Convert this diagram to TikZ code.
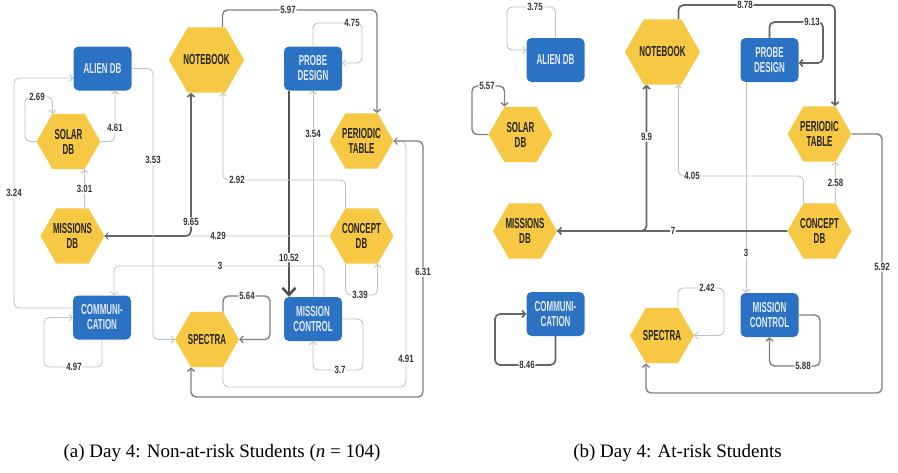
\documentclass[tikz,border=0pt]{standalone}
\usepackage{fontspec}
\setmainfont{Liberation Serif}
\newfontfamily\tilefont[FakeStretch=0.55]{Liberation Sans}
\newfontfamily\wtfont[FakeStretch=0.75]{Liberation Sans}
\usetikzlibrary{shapes.geometric, arrows.meta}
\definecolor{tileblue}{RGB}{44,114,196}
\definecolor{tileyellow}{RGB}{246,200,67}
\definecolor{tiletext}{RGB}{226,234,246}

\begin{document}
\begin{tikzpicture}[x=1pt, y=-1pt,
  hexnode/.style={regular polygon, regular polygon sides=6, minimum size=64pt, inner sep=0pt, fill=tileyellow, text=black!85, align=center, font=\tilefont\bfseries\fontsize{14.5}{15}\selectfont},
  bluebox/.style={rectangle, rounded corners=5pt, fill=tileblue, minimum width=58pt, minimum height=44pt, inner sep=0pt, text=tiletext, align=center, font=\tilefont\bfseries\fontsize{14.5}{15}\selectfont},
  flow/.style={->, rounded corners=5pt, >={Straight Barb[length=3pt,width=7pt]}},
  tipdark/.style={-{Straight Barb[length=3pt,width=7pt,color=black!60]}},
  lightedge/.style={flow, draw=black!24, line width=0.9pt},
  midedge/.style={flow, draw=black!50, line width=1.4pt},
  darkedge/.style={flow, draw=black!60, line width=1.7pt},
  boldedge/.style={flow, draw=black!68, line width=2.6pt, >={Straight Barb[length=7pt,width=13pt]}},
  weight/.style={fill=white, inner sep=1pt, text=black!80, font=\wtfont\bfseries\fontsize{10.5}{11}\selectfont},
  captext/.style={font=\fontsize{19}{21}\selectfont}
]
\useasboundingbox (0,0) rectangle (898,472);

% (a) non-at-risk students
\node[bluebox] (alienA) at (102.5,68.5) {ALIEN DB};
\node[hexnode] (solarA) at (68.5,141.5) {SOLAR\\DB};
\node[hexnode] (missionsA) at (72.5,236) {MISSIONS\\DB};
\node[bluebox] (commA) at (102,317.5) {COMMUNI-\\CATION};
\node[hexnode] (notebookA) at (206.5,60) {NOTEBOOK};
\node[hexnode] (spectraA) at (207,339.5) {SPECTRA};
\node[bluebox] (probeA) at (313,68.5) {PROBE\\DESIGN};
\node[bluebox] (controlA) at (313,319) {MISSION\\CONTROL};
\node[hexnode] (periodicA) at (361.5,141) {PERIODIC\\TABLE};
\node[hexnode] (conceptA) at (361.5,236) {CONCEPT\\DB};

% transitions (a)
\draw[midedge] ([xshift=16pt]notebookA.north) |- (288,10) node[weight] (w597) {5.97} -| ([xshift=15.5pt]periodicA.north);
\draw[lightedge] (probeA.north) |- (352,23) node[weight] (w475) {4.75} -| (362,63) -- ([yshift=5.5pt]probeA.east);
\draw[boldedge] ([xshift=-24pt]probeA.south) -- node[weight, pos=0.81] (w1052) {10.52} ([xshift=-24pt]controlA.north);
\draw[lightedge] (controlA.north) -- node[weight, pos=0.79] (w354) {3.54} (probeA.south);
\draw[lightedge] ([xshift=-16pt]conceptA.north) |- (237,180) node[weight] (w292) {2.92} -| ([xshift=16.5pt]notebookA.south);
\draw[lightedge, tipdark] (conceptA.west) -- (218,236) node[weight] (w429) {4.29} -- (missionsA.east);
\draw[darkedge] (missionsA.east) -| (191,222) node[weight] (w965) {9.65} -- ([xshift=-15.5pt]notebookA.south);
\draw[lightedge] (alienA.east) -| (153,160) node[weight] (w353) {3.53} |- (spectraA.west);
\draw[lightedge] ([yshift=9.5pt]commA.west) -| (14,193) node[weight] (w324) {3.24} |- ([yshift=-9.5pt]alienA.west);
\draw[lightedge] (solarA.west) -| (25,97) -- (37,97) node[weight] (w269) {2.69} -| ([xshift=-16pt]solarA.north);
\draw[lightedge] (solarA.east) -| (115,128) node[weight] (w461) {4.61} -- ([xshift=12.5pt]alienA.south);
\draw[lightedge] ([xshift=12pt]missionsA.north) -- node[weight] (w301) {3.01} ([xshift=16pt]solarA.south);
\draw[lightedge] (commA.south) |- (74,367) node[weight] (w497) {4.97} -| (44,317.5) -- (commA.west);
\draw[lightedge] ([xshift=11pt]controlA.north) |- (220,266) node[weight] (w3a) {3} -| ([xshift=12pt]commA.north);
\draw[midedge] ([xshift=16pt]spectraA.north) |- (247,296) node[weight] (w564) {5.64} -| (270,339.5) -- (spectraA.east);
\draw[lightedge] (controlA.east) -| (363,370) -- (340,370) node[weight] (w37) {3.7} -| (controlA.south);
\draw[lightedge] ([xshift=-16pt]conceptA.south) |- (360,295) node[weight] (w339) {3.39} -| ([xshift=16pt]conceptA.south);
\draw[lightedge, tipdark] ([xshift=16pt]spectraA.south) |- (406,387) -- (406,359) node[weight] (w491) {4.91} |- (periodicA.east);
\draw[midedge] (periodicA.east) -| (423,272) node[weight] (w631) {6.31} |- (191,397) -- ([xshift=-16pt]spectraA.south);

% (b) at-risk students
\node[bluebox] (alienB) at (555.5,60) {ALIEN DB};
\node[hexnode] (solarB) at (520.5,134.5) {SOLAR\\DB};
\node[hexnode] (missionsB) at (525,231) {MISSIONS\\DB};
\node[bluebox] (commB) at (555.5,314) {COMMUNI-\\CATION};
\node[hexnode] (notebookB) at (662.5,52) {NOTEBOOK};
\node[hexnode] (spectraB) at (662,335.5) {SPECTRA};
\node[bluebox] (probeB) at (769.5,60) {PROBE\\DESIGN};
\node[bluebox] (controlB) at (769.5,315) {MISSION\\CONTROL};
\node[hexnode] (periodicB) at (819.5,134) {PERIODIC\\TABLE};
\node[hexnode] (conceptB) at (819.5,231) {CONCEPT\\DB};

% transitions (b)
\draw[lightedge] (alienB.north) |- (535,7) node[weight] (w375) {3.75} -| (507,50) -- ([yshift=10pt]alienB.west);
\draw[midedge] (solarB.west) -| (472,86) -- (487,86) node[weight] (w557) {5.57} -| ([xshift=-16pt]solarB.north);
\draw[darkedge] ([xshift=16pt]notebookB.north) |- (745,5) node[weight] (w878) {8.78} -| ([xshift=15.5pt]periodicB.north);
\draw[darkedge] (probeB.north) |- (812,22) node[weight] (w913) {9.13} -| (823,63) -- ([yshift=-3pt]probeB.east);
\draw[lightedge] ([xshift=-16pt]conceptB.north) |- (692,176) node[weight] (w405) {4.05} -| ([xshift=16pt]notebookB.south);
\draw[lightedge] ([xshift=16pt]conceptB.north) -- node[weight] (w258) {2.58} ([xshift=16pt]periodicB.south);
\draw[lightedge] ([xshift=-23.5pt]probeB.south) -- node[weight, pos=0.81] (w3b) {3} ([xshift=-23.5pt]controlB.north);
\draw[lightedge] ([xshift=16pt]spectraB.north) |- (707,288) node[weight] (w242) {2.42} -| (724,335.5) -- (spectraB.east);
\draw[midedge] (controlB.east) -| (820,366) -- (803,366) node[weight] (w588) {5.88} -| (controlB.south);
\draw[darkedge] (commB.south) |- (527,365) node[weight] (w846) {8.46} -| (495,314) -- (commB.west);
\draw[darkedge] (conceptB.west) -- (673,231) node[weight] (w7) {7} -- (missionsB.east);
\draw[darkedge] (missionsB.east) -| (646.5,137) node[weight] (w99) {9.9} -- ([xshift=-16pt]notebookB.south);
\draw[midedge] (periodicB.east) -| (882,267) node[weight] (w592) {5.92} |- (646,393) -- ([xshift=-16pt]spectraB.south);

% captions
\node[captext] (capA) at (222,453) {(a) Day 4: Non-at-risk Students (\textit{n} = 104)};
\node[captext] (capB) at (677.5,453) {(b) Day 4: At-risk Students};

\end{tikzpicture}
\end{document}
